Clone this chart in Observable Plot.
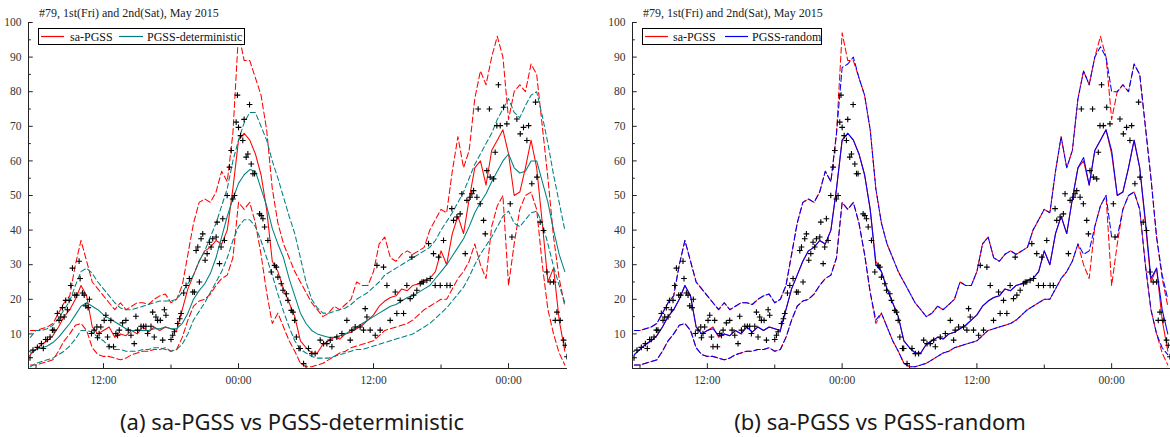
<!DOCTYPE html>
<html><head><meta charset="utf-8">
<script src="https://cdn.jsdelivr.net/npm/d3@7"></script>
<script src="https://cdn.jsdelivr.net/npm/@observablehq/plot@0.6"></script>
<style>
body{margin:0;background:#fff;width:1170px;height:437px;position:relative;overflow:hidden;font-family:"Liberation Serif",serif;}
.panel{position:absolute;top:0;}
.title{position:absolute;top:7px;font-size:12px;line-height:12px;color:#222;white-space:nowrap;}
.legend{position:absolute;top:28px;}
.caption{position:absolute;top:406px;font-family:"Noto Sans",sans-serif;font-size:22px;color:#1a1a1a;text-align:center;white-space:nowrap;}
</style></head>
<body>
<div id="pa" class="panel" style="left:0px"></div>
<div id="pb" class="panel" style="left:604px"></div>
<div class="title" style="left:39px">#79, 1st(Fri) and 2nd(Sat), May 2015</div>
<div class="title" style="left:643px">#79, 1st(Fri) and 2nd(Sat), May 2015</div>
<div id="lega" class="legend" style="left:38px"></div>
<div id="legb" class="legend" style="left:642px"></div>
<div class="caption" style="left:92px;width:400px">(a) sa-PGSS vs PGSS-deterministic</div>
<div class="caption" style="left:680px;width:400px">(b) sa-PGSS vs PGSS-random</div>
<script>
// ---- axis ticks ----
const yTicks = [10,20,30,40,50,60,70,80,90,100];
const yMinor = [5,15,25,35,45,55,65,75,85,95];
const xTickHours = [12,24,36,48];
const xTickLabels = ["12:00","00:00","12:00","00:00"];
const xMinorHours = [6,18,30,42];
const seriesNames = ["sa-PGSS","PGSS-deterministic","PGSS-random"];

// half-hour grid, 05:30 day 1 -> 05:00 day 3 (hours since 00:00, May 1st)
const hours = d3.range(5.5, 53.01, 0.5);

// sa-PGSS (red)
const saMean = [4,5.5,7,8,9.5,12,15,17,20,24,21,12,
  10,11,12,9,10,9.5,11,10,12,10.5,12,11,
  12,11.5,11,17,23,27,31,34,35,37,36,40,
  52,66,68,66,62,56,46,31,28,23,19,15,
  8,6,4.5,4.5,7,8,9,8.5,10,10.5,11.5,12.5,
  14,15.5,18,19.5,20.5,21,23,22.5,24,24.5,25.5,26,
  28,34,30,39,44,39,49,58,60,53,63,66,
  69,62,50,51,58,66,58,42,25,29,14,5];
const saUpper = [11,11,11.5,12,13,16,19,21,30,37,31,25,
  23,21,19,17,19,17,18,19,19,18.5,20,21,
  21.5,19,20,24,33,42,48,49,48,51,57,54,
  68,97,89,89,84,79,69,52,42,36,32,28,
  25,22,19,17,15,16,18,17,18.5,20,25,24,
  24,28,36,38,32,31,33,34,33,34,35,40,
  43,46,45,57,67,58,63,78,86,82,90,96,
  90,72,80,82,80,88,85,70,55,38,26,18];
const saLower = [1,1,1.5,2,2.5,5,8,10,12.5,13,11,6,
  4,3.5,3.5,3,2.5,3,4,4.5,5,5,5.5,5.5,
  6,5,5.5,9,14,18,19.5,20,21.5,24,26,27,
  32,48,46,48,42,33,22,13,16,12,8,5,
  1.5,0.5,0.5,1,1.5,2.5,3.5,4.5,5,6,6.5,7,
  7.5,8,9.5,11,11.5,12,12.5,13,14,15.5,17,18,
  19,20,20,23,26,28,31,36,30,26,41,47,
  50,24,36,46,50,51,46,30,17,10,4.5,1];

// PGSS-deterministic (teal)
const detMean = [4.5,5.5,6,6.5,7.5,9,11,13,15.5,18,19,18,
  17,15.5,14.5,13.5,12.5,11.5,11,11,11,11,11.5,11.5,
  12,11.5,11.5,13,16,20,22.5,24.5,27.5,32,38,44,
  49,53.5,56,57.5,57,52,47,40.5,36,32,26,21,
  16,13,11,10,9.5,9,9,9.5,10,11,12,13,
  14,15,16,17,18,18.5,19.5,20.5,21,22,23,24,
  26,28,30,32.5,35,37.5,41,45,48,50.5,54,57,
  60,62,58,56.5,57,60,60,54,48,40,33,28];
const detUpper = [9,11,11,11.5,12.5,14.5,17,19.5,24,28,29,27.5,
  25,23,21,19,17.5,17,17,17.5,18,18.5,19,19.5,
  19.5,19.5,20,22,24.5,27,31,34,38,42,47,52,
  60,66,71,74,74,70,66,60,55,49.5,44,39,
  32,25,20,17.5,16,16,16.5,17,17.5,18.5,20,21,
  22,23.5,25,27,28,29,30,31,32,33,34,35,
  37,40,42.5,45,48,51,55,59,62,65,68,72,
  75,78,74,72.5,76,79,80,73,65,56,48,40];
const detLower = [0.5,1.5,2,2.5,3,4,5,6.5,8.5,11,11,10.5,
  9,8,6.5,5.5,5.5,5,5,5,5.5,5.5,6,6,
  5.5,5,5.5,7,10,14,16.5,19,22,25,28,32,
  37,41,43,43,41,37,32,27,21.5,16.5,12,8,
  5.5,4.5,3.5,3,3,3,3.5,4,4.5,5,5.5,5.5,
  6,6.5,7,7.5,8,8.5,9,9.5,10,11,12,13,
  14.5,16,17.5,19.5,21.5,23.5,26.5,30,33,35.5,38,41,
  44,45.5,42,41,43,45,45.5,42,36,29.5,24,19];

// PGSS-random (blue)
const rndMean = [4,5.5,7,8,9.5,12,15,17,20,24,21,12,
  10,11,11.5,9.5,10,9.5,11,10,12,10.5,12,11,
  12,11.5,11,17,23,27,31,34,35,37,36,40,
  52,66,68,66,62,56,46,30,28,23,19,15,
  8,6,4.5,4.5,7,8,9,8.5,10,10.5,11.5,12.5,
  14,15.5,18,19.5,20.5,21,23,22.5,24,24.5,25.5,26,
  28,34,30,39,44,39,49,58,61,53,63,66,
  69,63,50,51,58,66,58,43,26,29,17,10];
const rndUpper = [11,11,11.5,12,13,16,19,21,30,37,31,25,
  23,21,19,17,19,17,18,19,19,18.5,20,21,
  21.5,19,20,24,33,42,48,49,48,51,57,54,
  68,87,88,90,84,79,69,52,42,36,32,28,
  25,22,19,17,15,16,18,17,18.5,20,25,24,
  24,28,36,38,32,31,33,34,33,34,35,40,
  43,46,45,57,67,58,63,78,86,82,90,93,
  90,80,80,82,80,88,85,70,55,38,27,20];
const rndLower = [1,1,1.5,2,2.5,5,8,10,12.5,13,11,6,
  4,3.5,3.5,3,2.5,3,4,4.5,5,5,5.5,5.5,
  6,5,5.5,9,14,18,19.5,20,21.5,24,26,27,
  32,48,46,48,42,33,22,14,16,12,8,5,
  1.5,0.5,0.5,1,1.5,2.5,3.5,4.5,5,6,6.5,7,
  7.5,8,9.5,11,11.5,12,12.5,13,14,15.5,17,18,
  19,20,20,23,26,28,31,36,33,34,41,47,
  50,38,38,46,50,51,46,30,17,10,6,4];

// observations (+)
const obsPoints = [[5.47,3.1],[5.73,5.3],[6.12,6.1],[6.48,7.2],[6.65,5.8],[6.86,8.4],[7.01,8.4],[7.25,9.1],[7.46,11.1],[7.6,11.1],
[7.9,15.9],[8.05,13.9],[8.2,14.9],[8.35,17.6],[8.5,14.9],[8.64,19.7],[8.79,17],[8.94,19.7],[9.09,24],[9.24,29],
[9.45,21.2],[9.62,21.2],[9.83,31],[9.92,26],[10.13,21.8],[10.28,21.2],[10.43,18.1],[10.63,17.6],[10.75,20],[10.93,10.1],
[11.17,11.1],[11.41,12],[11.47,8.9],[11.61,10.1],[11.76,12],[12.06,13.9],[12.21,15.4],[12.36,9.1],[12.5,6.3],[12.65,13.9],
[12.89,6.3],[13.1,10.1],[13.25,9.6],[13.4,11.1],[13.69,13.2],[13.99,13.9],[14.2,11.1],[14.44,9.6],[14.73,7.2],[14.88,15.1],
[15.03,11.1],[15.33,12.2],[15.56,12.2],[15.77,12.2],[15.92,10.1],[16.22,12.2],[16.37,16.3],[16.51,9.1],[16.66,14.9],[16.81,13.9],
[17.05,13.9],[17.26,8.2],[17.41,17],[17.55,15.4],[18,8.4],[18.15,9.6],[18.3,10.6],[18.59,13],[18.77,14.4],[18.89,15.9],
[19.13,21.8],[19.34,24],[19.63,26],[19.93,22.1],[20.08,22.1],[20.23,34.1],[20.38,35.1],[20.52,25],[20.67,37.5],[20.82,38.9],
[21.03,31.3],[21.21,33.2],[21.41,36.5],[21.56,35.1],[21.71,37.5],[22.01,38],[22.1,42.3],[22.31,30.3],[22.45,35.1],[22.6,43.3],
[22.75,37],[22.99,50],[23.2,58.2],[23.35,63],[23.49,49],[23.64,50],[23.79,71.2],[23.9,79],[24,69.7],[24.18,67.3],
[24.38,65.9],[24.5,72],[24.68,61.1],[24.83,62],[24.98,76.3],[25.13,59.1],[25.28,56.3],[25.42,56.3],[25.87,44.7],[26.02,44.2],
[26.17,43.3],[26.32,40.9],[26.61,37],[26.91,27.9],[27.21,29.8],[27.36,29.3],[27.5,26.4],[27.8,24.5],[27.95,22.6],[28.25,21.6],
[28.39,19.7],[28.69,16.8],[28.84,16.3],[28.99,13.9],[29.14,9.1],[29.37,5.8],
[29.48,5.8],[29.78,1.4],[30.22,5.8],[30.52,4.3],[30.81,4.3],[31.26,8.2],[31.56,7.2],[31.85,7.2],[32.15,8.2],[32.3,6.3],
[32.74,9.1],[33.19,10.1],[33.63,13.9],[33.93,8.2],[34.07,11.1],[34.37,12],[34.81,12],[35.11,11.1],[35.26,17.3],[35.41,14.9],
[35.7,11.1],[36.15,9.6],[36.3,29.8],[36.59,11.1],[36.89,29.3],[37.19,24],[37.48,13.9],[37.93,22.1],[38.07,15.9],[38.37,19.7],
[38.67,15.9],[38.96,24],[39.26,20.2],[39.41,32.2],[39.56,21.2],[39.85,22.6],[40.15,24.5],[40.3,25],[40.44,25],[40.74,25.5],
[40.89,36.1],[41.04,26],[41.33,33.2],[41.48,24],[41.78,32.2],[41.93,24],[42.22,37],[42.52,24],[42.81,24],[42.96,46.2],
[43.11,42.8],[43.41,43.8],[43.7,44.7],[43.85,50.5],[44.15,33.2],[44.3,48.6],[44.59,49.5],[44.74,50.5],[44.89,51.4],[45.19,49.5],
[45.3,75],[45.48,47.6],[45.78,42.8],[45.93,38.9],[46.07,57.2],[46.3,75],[46.37,55.3],[46.67,54.8],[46.81,62.5],[46.96,70.2],
[47.1,82],[47.26,70.2],[47.56,75.5],[47.85,70.7],[48.15,47.6],[48.3,38],[48.74,72.1],[49.04,67.8],[49.33,69.7],[49.63,65.9],
[49.78,70.2],[50.07,53.4],[50.4,77],[50.52,55.3],[50.81,42.3],[51.11,39.9],[51.41,27.9],[51.7,25],[52,25],[52.15,13.9],
[52.3,16.3],[52.59,13.9],[52.89,8.2],[53.04,6.7],[53.19,3.4]];

const RED = "#ff0000", TEAL = "#008080", BLUE = "#0000ff";
const FONT = "Liberation Serif";

function series(arr){ return hours.map((t,i)=>({t, v: arr[i]})); }

function makePanel(width, marginRight, lines){
  const xMin = 5.333, xMax = 53.24;
  const marks = [];
  for (const l of lines){
    const o = {x:"t", y:"v", stroke:l.color, strokeWidth:1.05, clip:true};
    if (l.dash){ o.strokeDasharray = l.dash; o.strokeDashoffset = l.offset || 0; }
    marks.push(Plot.line(series(l.values), o));
  }
  marks.push(Plot.dot(obsPoints, {x:d=>d[0], y:d=>d[1], symbol:"plus", r:2, stroke:"#000", strokeWidth:1.1, fill:"none", clip:true}));
  // axis lines
  marks.push(Plot.ruleX([xMin], {y1:0, y2:100, stroke:"#222", strokeWidth:1}));
  marks.push(Plot.ruleY([0], {x1:xMin, x2:xMax, stroke:"#222", strokeWidth:1}));
  // inward ticks
  marks.push(Plot.ruleX(xTickHours, {x:d=>d, y1:0, y2:1.4, stroke:"#222"}));
  marks.push(Plot.ruleX(xMinorHours, {x:d=>d, y1:0, y2:1.0, stroke:"#222"}));
  marks.push(Plot.ruleY(yTicks, {y:d=>d, x1:xMin, x2:xMin+0.42, stroke:"#222"}));
  marks.push(Plot.ruleY(yMinor, {y:d=>d, x1:xMin, x2:xMin+0.25, stroke:"#222"}));
  // tick labels
  marks.push(Plot.text(yTicks, {x:xMin, y:d=>d, text:d=>String(d), dx:-7, textAnchor:"end", fontSize:11.5, fill:"#333"}));
  marks.push(Plot.text(xTickHours, {x:d=>d, y:0, text:(d,i)=>xTickLabels[i], dy:12, fontSize:11.5, fill:"#333"}));
  return Plot.plot({
    width, height:395, marginLeft:28, marginRight, marginTop:22, marginBottom:27,
    x:{domain:[xMin,xMax], axis:null},
    y:{domain:[0,100], axis:null},
    style:{fontFamily:FONT, background:"transparent", overflow:"visible"},
    marks
  });
}

const dashR = "6,3";
document.getElementById("pa").appendChild(makePanel(585, 18, [
  {values:saUpper, color:RED, dash:dashR},
  {values:saLower, color:RED, dash:dashR},
  {values:saMean, color:RED},
  {values:detUpper, color:TEAL, dash:"5,3"},
  {values:detLower, color:TEAL, dash:"5,3"},
  {values:detMean, color:TEAL}
]));
document.getElementById("pb").appendChild(makePanel(566, 0, [
  {values:saUpper, color:RED, dash:dashR},
  {values:saLower, color:RED, dash:dashR},
  {values:saMean, color:RED},
  {values:rndUpper, color:BLUE, dash:dashR, offset:1},
  {values:rndLower, color:BLUE, dash:dashR, offset:1},
  {values:rndMean, color:BLUE}
]));

function legend(el, width, items){
  const ns = "http://www.w3.org/2000/svg";
  const svg = document.createElementNS(ns, "svg");
  svg.setAttribute("width", width); svg.setAttribute("height", 17);
  let html = `<rect x="0.5" y="0.5" width="${width-1}" height="16" fill="#fff" stroke="#000" stroke-width="1"/>`;
  for (const it of items){
    html += `<line x1="${it.x0}" x2="${it.x1}" y1="8.5" y2="8.5" stroke="${it.color}" stroke-width="1.2"/>`;
    html += `<text x="${it.tx}" y="12.5" font-family="${FONT}" font-size="12" fill="#111">${it.label}</text>`;
  }
  svg.innerHTML = html;
  el.appendChild(svg);
}
legend(document.getElementById("lega"), 207, [
  {x0:3, x1:26, color:RED, tx:32, label:seriesNames[0]},
  {x0:81, x1:105, color:TEAL, tx:109, label:seriesNames[1]}
]);
legend(document.getElementById("legb"), 180, [
  {x0:3, x1:26, color:RED, tx:31, label:seriesNames[0]},
  {x0:83, x1:106, color:BLUE, tx:110, label:seriesNames[2]}
]);
</script>
</body></html>
